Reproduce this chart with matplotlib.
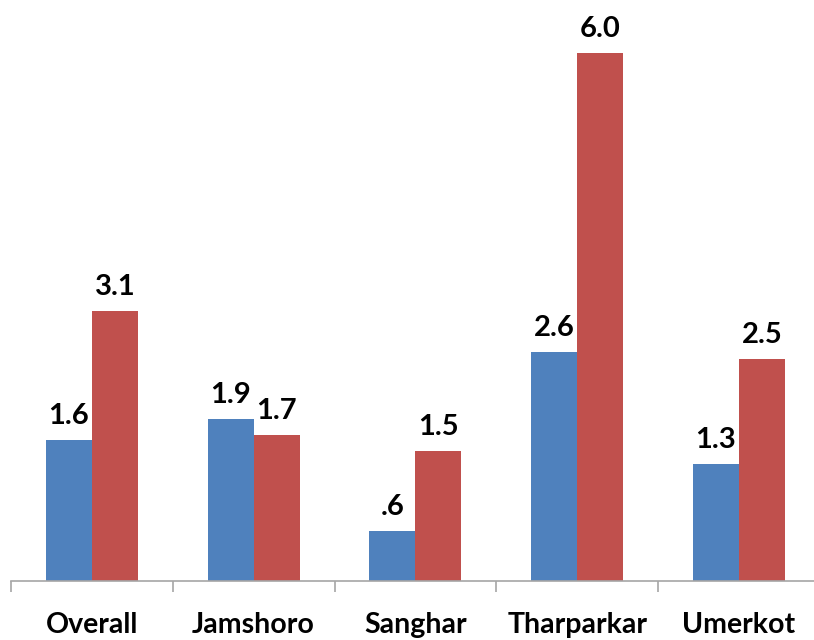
import matplotlib.pyplot as plt
import numpy as np

categories = ['Overall', 'Jamshoro', 'Sanghar', 'Tharparkar', 'Umerkot']
# bar heights; labels as printed
blue_vals = [1.6, 1.84, 0.57, 2.6, 1.33]
red_vals = [3.07, 1.66, 1.48, 6.0, 2.52]
blue_labels = ['1.6', '1.9', '.6', '2.6', '1.3']
red_labels = ['3.1', '1.7', '1.5', '6.0', '2.5']

plt.rcParams['font.family'] = ['Lato', 'DejaVu Sans']

fig = plt.figure(figsize=(8.14, 6.4), dpi=100)
ax = fig.add_axes([11 / 814, 59 / 640, 808.75 / 814, 581 / 640])

x = np.arange(len(categories))
w = 0.285
b1 = ax.bar(x - w / 2, blue_vals, w, color='#4F81BD')
b2 = ax.bar(x + w / 2, red_vals, w, color='#C0504D')

for bars, labels in ((b1, blue_labels), (b2, red_labels)):
    for bar, lab in zip(bars, labels):
        ax.annotate(lab, (bar.get_x() + bar.get_width() / 2, bar.get_height()),
                    xytext=(0, 8), textcoords='offset points',
                    ha='center', va='bottom', fontsize=21, fontweight='bold')

ax.set_xlim(-0.5, len(categories) - 0.5)
ax.set_ylim(0, 581 / 88)

for s in ['top', 'right', 'left']:
    ax.spines[s].set_visible(False)
ax.spines['bottom'].set_color('#A6A6A6')
ax.spines['bottom'].set_linewidth(1.2)

ax.set_yticks([])
ax.set_xticks(x)
ax.set_xticklabels(categories, fontsize=20.5, fontweight='bold')
ax.tick_params(axis='x', which='major', length=0, pad=22)
ax.set_xticks(np.arange(-0.5, len(categories)), minor=True)
ax.tick_params(axis='x', which='minor', length=8, color='#A6A6A6', width=1.2)

fig.savefig('out.png', dpi=100)
